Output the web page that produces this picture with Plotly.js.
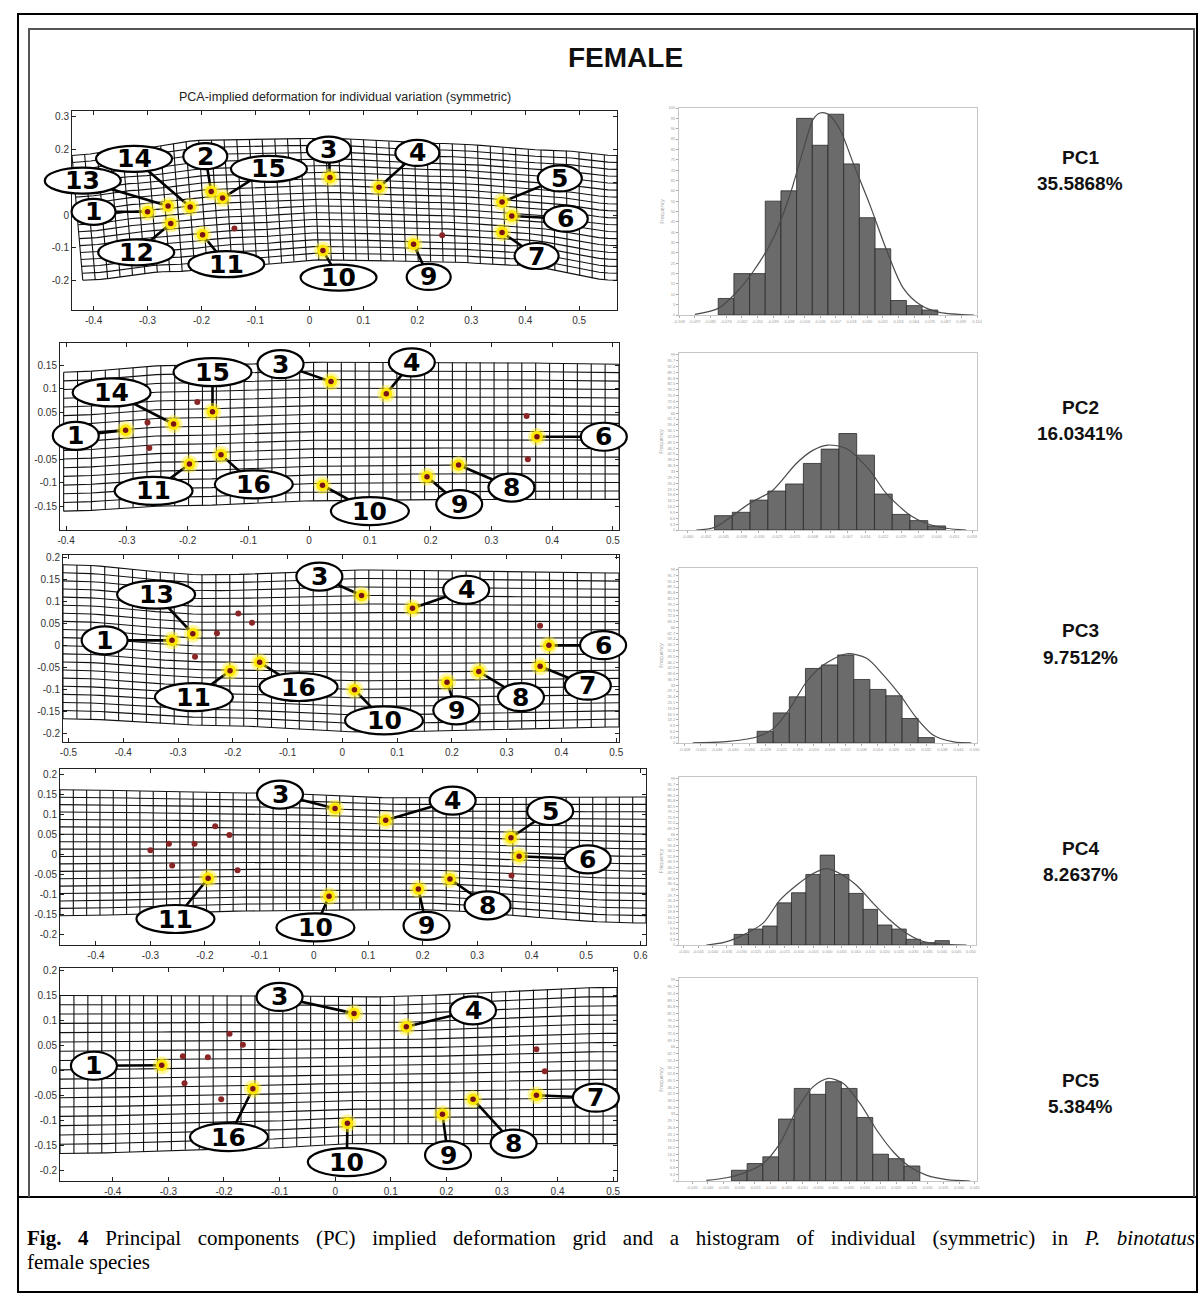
<!DOCTYPE html>
<html><head><meta charset="utf-8">
<script src="https://cdn.plot.ly/plotly-3.0.1.min.js"></script>
<style>body{margin:0;background:#fff;}#chart{width:1198px;height:1296px;}</style>
</head><body><div id="chart"></div>
<script>
// ---------------- DATA ----------------
const pcNames = ['PC1','PC2','PC3','PC4','PC5'];
const pcVariance = ['35.5868%','16.0341%','9.7512%','8.2637%','5.384%'];

const pc1LmId = ['1','13','14','12','2','15','11','3','4','10','9','5','6','7'];
const pc1LmX  = [-0.30,-0.262,-0.221,-0.257,-0.182,-0.161,-0.198,0.038,0.129,0.025,0.193,0.357,0.375,0.357];
const pc1LmY  = [0.01,0.028,0.025,-0.026,0.072,0.052,-0.06,0.115,0.085,-0.108,-0.089,0.04,-0.003,-0.053];
const pc1LabX = [-0.40,-0.42,-0.325,-0.321,-0.193,-0.075,-0.154,0.036,0.2,0.054,0.221,0.464,0.475,0.421];
const pc1LabY = [0.01,0.105,0.172,-0.114,0.18,0.141,-0.15,0.20,0.19,-0.191,-0.189,0.112,-0.011,-0.125];
const pc1DotX = [-0.139,0.246];
const pc1DotY = [-0.041,-0.062];
const pc1TopX = [-0.44,-0.33,-0.19,0.025,0.24,0.454,0.57];
const pc1TopY = [0.182,0.203,0.229,0.234,0.219,0.198,0.182];
const pc1BotX = [-0.42,-0.26,-0.12,0.025,0.24,0.38,0.57];
const pc1BotY = [-0.199,-0.173,-0.153,-0.137,-0.142,-0.153,-0.199];

const pc2LmId = ['1','14','15','11','16','3','4','10','9','8','6'];
const pc2LmX  = [-0.302,-0.223,-0.159,-0.197,-0.145,0.036,0.127,0.022,0.194,0.246,0.375];
const pc2LmY  = [0.012,0.025,0.051,-0.06,-0.04,0.115,0.089,-0.105,-0.087,-0.062,-0.002];
const pc2LabX = [-0.384,-0.325,-0.159,-0.256,-0.091,-0.047,0.169,0.1,0.247,0.333,0.485];
const pc2LabY = [0.0,0.092,0.135,-0.117,-0.103,0.152,0.156,-0.16,-0.145,-0.11,-0.002];
const pc2DotX = [-0.266,-0.263,-0.184,0.358,0.36];
const pc2DotY = [0.028,-0.026,0.072,0.042,-0.05];
const pc2TopX = [-0.404,-0.228,0.022,0.272,0.51];
const pc2TopY = [0.135,0.149,0.156,0.156,0.152];
const pc2BotX = [-0.404,-0.228,0.022,0.272,0.51];
const pc2BotY = [-0.16,-0.149,-0.138,-0.135,-0.135];

const pc3LmId = ['1','13','11','16','3','4','10','9','8','6','7'];
const pc3LmX  = [-0.311,-0.273,-0.205,-0.151,0.035,0.128,0.022,0.191,0.249,0.377,0.361];
const pc3LmY  = [0.011,0.026,-0.058,-0.039,0.113,0.084,-0.101,-0.084,-0.06,0.0,-0.048];
const pc3LabX = [-0.434,-0.34,-0.271,-0.08,-0.042,0.226,0.076,0.208,0.326,0.476,0.448];
const pc3LabY = [0.011,0.115,-0.118,-0.095,0.156,0.126,-0.171,-0.148,-0.118,0.0,-0.092];
const pc3DotX = [-0.229,-0.19,-0.165,-0.269,0.361];
const pc3DotY = [0.027,0.072,0.051,-0.026,0.044];
const pc3TopX = [-0.51,-0.24,0.038,0.505];
const pc3TopY = [0.183,0.16,0.171,0.164];
const pc3BotX = [-0.51,-0.24,0.038,0.505];
const pc3BotY = [-0.167,-0.182,-0.197,-0.186];

const pc4LmId = ['3','4','5','6','11','10','9','8'];
const pc4LmX  = [0.039,0.132,0.362,0.377,-0.194,0.028,0.192,0.25];
const pc4LmY  = [0.115,0.086,0.042,-0.004,-0.059,-0.104,-0.086,-0.061];
const pc4LabX = [-0.062,0.255,0.434,0.503,-0.254,0.003,0.207,0.319];
const pc4LabY = [0.15,0.135,0.109,-0.012,-0.161,-0.182,-0.178,-0.127];
const pc4DotX = [-0.3,-0.266,-0.219,-0.181,-0.155,-0.26,-0.14,0.363];
const pc4DotY = [0.011,0.027,0.027,0.071,0.049,-0.027,-0.039,-0.052];
const pc4TopX = [-0.466,-0.114,0.162,0.61];
const pc4TopY = [0.162,0.154,0.142,0.144];
const pc4BotX = [-0.466,-0.114,0.162,0.61];
const pc4BotY = [-0.153,-0.141,-0.137,-0.171];

const pc5LmId = ['1','16','3','4','10','9','8','7'];
const pc5LmX  = [-0.312,-0.148,0.034,0.128,0.022,0.193,0.248,0.362];
const pc5LmY  = [0.01,-0.037,0.114,0.087,-0.106,-0.088,-0.058,-0.05];
const pc5LabX = [-0.434,-0.191,-0.1,0.248,0.021,0.203,0.321,0.469];
const pc5LabY = [0.009,-0.134,0.147,0.12,-0.184,-0.17,-0.147,-0.055];
const pc5DotX = [-0.274,-0.229,-0.19,-0.166,-0.271,-0.205,0.362,0.377];
const pc5DotY = [0.028,0.026,0.073,0.051,-0.026,-0.058,0.042,-0.002];
const pc5TopX = [-0.495,-0.159,0.048,0.507];
const pc5TopY = [0.15,0.15,0.147,0.166];
const pc5BotX = [-0.495,-0.159,0.048,0.507];
const pc5BotY = [-0.167,-0.157,-0.147,-0.147];

// grid-axis ticks (values) and their labels ('' where the label is hidden behind a callout)
const gridXTickVals = [
  [-0.4,-0.3,-0.2,-0.1,0,0.1,0.2,0.3,0.4,0.5],
  [-0.4,-0.3,-0.2,-0.1,0,0.1,0.2,0.3,0.4,0.5],
  [-0.5,-0.4,-0.3,-0.2,-0.1,0,0.1,0.2,0.3,0.4,0.5],
  [-0.4,-0.3,-0.2,-0.1,0,0.1,0.2,0.3,0.4,0.5,0.6],
  [-0.4,-0.3,-0.2,-0.1,0,0.1,0.2,0.3,0.4,0.5]
];
const gridXTickText = [
  ['-0.4','-0.3','-0.2','-0.1','0','0.1','0.2','0.3','0.4','0.5'],
  ['-0.4','-0.3','-0.2','-0.1','0','0.1','0.2','0.3','0.4','0.5'],
  ['-0.5','-0.4','-0.3','-0.2','-0.1','0','0.1','0.2','0.3','0.4','0.5'],
  ['-0.4','-0.3','-0.2','-0.1','0','0.1','0.2','0.3','0.4','0.5','0.6'],
  ['-0.4','-0.3','-0.2','-0.1','0','0.1','0.2','0.3','0.4','0.5']
];
const gridYTickVals = [
  [-0.2,-0.1,0,0.1,0.2,0.3],
  [-0.15,-0.1,-0.05,0,0.05,0.1,0.15],
  [-0.2,-0.15,-0.1,-0.05,0,0.05,0.1,0.15,0.2],
  [-0.2,-0.15,-0.1,-0.05,0,0.05,0.1,0.15,0.2],
  [-0.2,-0.15,-0.1,-0.05,0,0.05,0.1,0.15,0.2]
];
const gridYTickText = [
  ['-0.2','-0.1','0','','0.2','0.3'],
  ['-0.15','-0.1','-0.05','','0.05','0.1','0.15'],
  ['-0.2','-0.15','-0.1','-0.05','0','0.05','0.1','0.15','0.2'],
  ['-0.2','-0.15','-0.1','-0.05','0','0.05','0.1','0.15','0.2'],
  ['-0.2','-0.15','-0.1','-0.05','0','0.05','0.1','0.15','0.2']
];

const pc1Bin = [1,2,3,4,5,6,7,8,9,10,11,12,13,14];
const pc1Count = [8,20,20,55,60,95,82,97,73,47,32,7,4.5,2.4];
const pc1CurveX = [-0.99,0.5,1.67,2.73,4.0,5.07,5.93,6.56,6.99,7.52,8.27,9.1,10.2,11.2,12.3,13.4,14.6,16.8];
const pc1CurveY = [0.3,3.2,11,21,37,58,80,94.6,97.6,97,89.5,73.5,52.6,32,13,4.8,1.3,0];
const pc2Bin = [1,2,3,4,5,6,7,8,9,10,11,12,13];
const pc2Count = [8.1,10,16.9,22,26,37.6,45.7,54.5,42.3,20.3,8.8,5.3,2.3];
const pc2CurveX = [-0.53,0.5,2.47,3.78,5.1,6.03,6.88,7.91,9.22,10.16,11.48,12.41,13.54,14.66];
const pc2CurveY = [0,1.5,15,22.5,37.6,45,48,46,33.8,20.7,8.5,3.8,1,0];
const pc3Bin = [1,2,3,4,5,6,7,8,9,10,11];
const pc3Count = [6.7,17.2,26.4,42.6,44.6,50.3,36.3,30.6,27,14,3.1];
const pc3CurveX = [-3.5,-1.62,0.46,1.5,2.53,3.57,4.61,6.06,7.3,8.34,9.38,10.42,11.45,12.7,13.8];
const pc3CurveY = [0.1,0.6,3.4,8.2,19.7,35,44.6,51,48.4,38.8,27.3,14,4.4,0.6,0.1];
const pc4Bin = [1,2,3,4,5,6,7,8,9,10,11,12,13,14,15];
const pc4Count = [6.3,9.5,11.3,25.1,31.1,42,53.5,42,30.7,21.2,11.9,9.5,3.4,1.4,2.6];
const pc4CurveX = [-1.43,-0.27,0.9,2.52,3.69,4.85,6.01,6.94,7.87,9.03,10.2,11.36,12.52,13.69,14.85,16.7];
const pc4CurveY = [0,1.4,5,13,26.7,35.6,42.6,45.5,42.6,35.6,24.8,14.9,7,2,0.6,0];
const pc5Bin = [1,2,3,4,5,6,7,8,9,10,11,12];
const pc5Count = [5.3,8.6,11.9,30.5,45.6,42.7,48.9,45.6,31.3,13.2,11,7.4];
const pc5CurveX = [-1.1,0.18,1.46,2.52,3.59,4.65,5.71,6.67,7.63,8.69,9.76,10.82,11.88,12.95,14.22,15.71];
const pc5CurveY = [0.3,1.6,4.4,8.6,18.5,35,46.5,50.6,48,38.2,25,14.3,6.9,2.8,0.7,0];

const histTickText = [
  ['-0.108','-0.097','-0.085','-0.074','-0.062','-0.051','-0.039','-0.028','-0.016','-0.005','0.007','0.018','0.030','0.041','0.053','0.064','0.076','0.087','0.099','0.110'],
  ['-0.060','-0.052','-0.045','-0.038','-0.030','-0.023','-0.015','-0.008','0.000','0.007','0.014','0.022','0.029','0.037','0.044','0.051','0.059'],
  ['-0.058','-0.052','-0.046','-0.040','-0.034','-0.028','-0.022','-0.016','-0.010','-0.004','0.002','0.008','0.014','0.020','0.026','0.032','0.038','0.044','0.050'],
  ['-0.050','-0.045','-0.040','-0.035','-0.030','-0.025','-0.020','-0.015','-0.010','-0.005','0.000','0.005','0.010','0.015','0.020','0.025','0.030','0.035','0.040','0.045','0.050'],
  ['-0.045','-0.040','-0.035','-0.030','-0.025','-0.020','-0.015','-0.010','-0.005','0.000','0.005','0.010','0.015','0.020','0.025','0.030','0.035','0.040','0.045']
];

const figTitle = 'FEMALE';
const gridTitle = 'PCA-implied deformation for individual variation (symmetric)';
const captionLine1 = '<b>Fig. 4</b> Principal components (PC) implied deformation grid and a histogram of individual (symmetric) in <i>P. binotatus</i>';
const captionLine2 = 'female species';

// ---------------- LAYOUT / DRAWING ----------------
const W = 1198, H = 1296;
const dx = p => p / W, dy = p => 1 - p / H;

const rows = [
  {lmId:pc1LmId,lmX:pc1LmX,lmY:pc1LmY,labX:pc1LabX,labY:pc1LabY,dotX:pc1DotX,dotY:pc1DotY,topX:pc1TopX,topY:pc1TopY,botX:pc1BotX,botY:pc1BotY,bin:pc1Bin,cnt:pc1Count,cx:pc1CurveX,cy:pc1CurveY},
  {lmId:pc2LmId,lmX:pc2LmX,lmY:pc2LmY,labX:pc2LabX,labY:pc2LabY,dotX:pc2DotX,dotY:pc2DotY,topX:pc2TopX,topY:pc2TopY,botX:pc2BotX,botY:pc2BotY,bin:pc2Bin,cnt:pc2Count,cx:pc2CurveX,cy:pc2CurveY},
  {lmId:pc3LmId,lmX:pc3LmX,lmY:pc3LmY,labX:pc3LabX,labY:pc3LabY,dotX:pc3DotX,dotY:pc3DotY,topX:pc3TopX,topY:pc3TopY,botX:pc3BotX,botY:pc3BotY,bin:pc3Bin,cnt:pc3Count,cx:pc3CurveX,cy:pc3CurveY},
  {lmId:pc4LmId,lmX:pc4LmX,lmY:pc4LmY,labX:pc4LabX,labY:pc4LabY,dotX:pc4DotX,dotY:pc4DotY,topX:pc4TopX,topY:pc4TopY,botX:pc4BotX,botY:pc4BotY,bin:pc4Bin,cnt:pc4Count,cx:pc4CurveX,cy:pc4CurveY},
  {lmId:pc5LmId,lmX:pc5LmX,lmY:pc5LmY,labX:pc5LabX,labY:pc5LabY,dotX:pc5DotX,dotY:pc5DotY,topX:pc5TopX,topY:pc5TopY,botX:pc5BotX,botY:pc5BotY,bin:pc5Bin,cnt:pc5Count,cx:pc5CurveX,cy:pc5CurveY}
];

const gridFrames = [
  {L:72,R:617,T:111,B:310,xr:[-0.44,0.57],yr:[-0.29,0.318],nC:43,nR:18,ew:44,dw:76,eh:26},
  {L:60,R:619,T:343,B:530,xr:[-0.41,0.51],yr:[-0.2,0.197],nC:40,nR:16,ew:46,dw:78,eh:28},
  {L:63,R:619,T:555,B:742,xr:[-0.51,0.505],yr:[-0.22,0.205],nC:40,nR:19,ew:46,dw:78,eh:28},
  {L:60,R:646,T:769,B:945,xr:[-0.466,0.61],yr:[-0.226,0.214],nC:44,nR:17,ew:46,dw:78,eh:28},
  {L:60,R:617,T:968,B:1181,xr:[-0.495,0.507],yr:[-0.222,0.205],nC:40,nR:17,ew:46,dw:78,eh:28}
];
const histFrames = [
  {L:679,R:977,T:108,B:315,xr:[-2.0,17.0],t0:-2,dt:5},
  {L:679,R:977,T:353,B:530,xr:[-1.5,15.27],t0:-1,dt:3.3},
  {L:679,R:977,T:568,B:743,xr:[-4.35,14.15],t0:-4,dt:3.3},
  {L:679,R:976,T:777,B:945,xr:[-3.34,17.36],t0:-3,dt:3.3},
  {L:679,R:977,T:978,B:1181,xr:[-2.84,16.14],t0:-2,dt:3.3}
];
const pcTextY = [[158,183],[407,433],[630,657],[848,874],[1080,1106]];

function interp(xs, ys, x) {
  if (x <= xs[0]) return ys[0];
  for (let i = 1; i < xs.length; i++) {
    if (x <= xs[i]) {
      const t = (x - xs[i-1]) / (xs[i] - xs[i-1]);
      const s = (1 - Math.cos(Math.PI * t)) / 2;
      return ys[i-1] + s * (ys[i] - ys[i-1]);
    }
  }
  return ys[ys.length - 1];
}
function buildGrid(r, nC, nR) {
  const gx = [], gy = [];
  const tL = r.topX[0], tR = r.topX[r.topX.length-1], bL = r.botX[0], bR = r.botX[r.botX.length-1];
  const S = 60;
  for (let j = 0; j <= nR; j++) {
    const v = j / nR;
    for (let s = 0; s <= S; s++) {
      const u = s / S;
      const xt = tL + u*(tR-tL), xb = bL + u*(bR-bL);
      const yt = interp(r.topX, r.topY, xt), yb = interp(r.botX, r.botY, xb);
      gx.push(xt + v*(xb-xt)); gy.push(yt + v*(yb-yt));
    }
    gx.push(null); gy.push(null);
  }
  for (let i = 0; i <= nC; i++) {
    const u = i / nC;
    const xt = tL + u*(tR-tL), xb = bL + u*(bR-bL);
    gx.push(xt, xb); gy.push(interp(r.topX, r.topY, xt), interp(r.botX, r.botY, xb));
    gx.push(null); gy.push(null);
  }
  return {gx, gy};
}

const data = [], shapes = [], annotations = [];
const layout = {
  width: W, height: H, margin: {l:0,r:0,t:0,b:0},
  paper_bgcolor: '#ffffff', plot_bgcolor: 'rgba(0,0,0,0)',
  showlegend: false, hovermode: false
};
const axName = (c, k) => (k === 1 ? c + 'axis' : c + 'axis' + k);
const ref = (c, k) => (k === 1 ? c : c + k);
const tickFont = {family:'Liberation Sans, Arial, sans-serif', size:10, color:'#333'};
const labelFont = {family:'DejaVu Sans, sans-serif', size:25, color:'#000'};

rows.forEach((r, i) => {
  const kF = 3*i + 1, kD = 3*i + 2, kH = 3*i + 3;
  const f = gridFrames[i];
  const sx = (f.xr[1]-f.xr[0])/(f.R-f.L), sy = (f.yr[1]-f.yr[0])/(f.B-f.T);
  const E = 45, EV = 14;
  layout[axName('x',kF)] = {domain:[dx(f.L),dx(f.R)], range:f.xr, anchor:ref('y',kF), showline:true, mirror:'ticks',
    linecolor:'#222', linewidth:1, ticks:'inside', ticklen:4, tickcolor:'#222', tickmode:'array', tickvals:gridXTickVals[i], ticktext:gridXTickText[i],
    tickfont:tickFont, showgrid:false, zeroline:false, fixedrange:true, ticklabelstandoff:1};
  layout[axName('y',kF)] = {domain:[dy(f.B),dy(f.T)], range:f.yr, anchor:ref('x',kF), showline:true, mirror:'ticks',
    linecolor:'#222', linewidth:1, ticks:'inside', ticklen:4, tickcolor:'#222', tickmode:'array', tickvals:gridYTickVals[i], ticktext:gridYTickText[i],
    tickfont:tickFont, showgrid:false, zeroline:false, fixedrange:true};
  layout[axName('x',kD)] = {domain:[dx(f.L-E),dx(f.R+E)], range:[f.xr[0]-E*sx, f.xr[1]+E*sx], anchor:ref('y',kD), visible:false, fixedrange:true};
  layout[axName('y',kD)] = {domain:[dy(f.B+EV),dy(f.T-EV)], range:[f.yr[0]-EV*sy, f.yr[1]+EV*sy], anchor:ref('x',kD), visible:false, fixedrange:true};

  data.push({type:'scatter', mode:'markers', x:[f.xr[0]], y:[f.yr[0]], marker:{opacity:0}, xaxis:ref('x',kF), yaxis:ref('y',kF), hoverinfo:'skip'});
  const g = buildGrid(r, f.nC, f.nR);
  data.push({type:'scatter', mode:'lines', x:g.gx, y:g.gy, line:{color:'#111', width:1.1}, xaxis:ref('x',kD), yaxis:ref('y',kD), hoverinfo:'skip', connectgaps:false});
  const lx = [], ly = [];
  r.lmX.forEach((x, j) => { lx.push(r.labX[j], x, null); ly.push(r.labY[j], r.lmY[j], null); });
  data.push({type:'scatter', mode:'lines', x:lx, y:ly, line:{color:'#000', width:2.6}, xaxis:ref('x',kD), yaxis:ref('y',kD), hoverinfo:'skip'});
  data.push({type:'scatter', mode:'markers', x:r.lmX, y:r.lmY, marker:{size:18, color:'rgba(255,240,40,0.45)'}, xaxis:ref('x',kD), yaxis:ref('y',kD), hoverinfo:'skip'});
  data.push({type:'scatter', mode:'markers', x:r.lmX, y:r.lmY, marker:{size:12, color:'rgba(255,232,0,0.95)'}, xaxis:ref('x',kD), yaxis:ref('y',kD), hoverinfo:'skip'});
  data.push({type:'scatter', mode:'markers', x:r.lmX, y:r.lmY, marker:{size:5.5, color:'#7a1414'}, xaxis:ref('x',kD), yaxis:ref('y',kD), hoverinfo:'skip'});
  data.push({type:'scatter', mode:'markers', x:r.dotX, y:r.dotY, marker:{size:6, color:'#8a2525'}, xaxis:ref('x',kD), yaxis:ref('y',kD), hoverinfo:'skip'});
  r.lmId.forEach((id, j) => {
    const w = id.length > 1 ? f.dw : f.ew;
    shapes.push({type:'circle', xref:ref('x',kD), yref:ref('y',kD), xsizemode:'pixel', ysizemode:'pixel',
      xanchor:r.labX[j], yanchor:r.labY[j], x0:-w/2, x1:w/2, y0:-f.eh/2, y1:f.eh/2,
      fillcolor:'#fff', line:{color:'#000', width:2.2}, layer:'above'});
    annotations.push({xref:ref('x',kD), yref:ref('y',kD), x:r.labX[j], y:r.labY[j], text:'<b>'+id+'</b>', showarrow:false,
      font:labelFont, xanchor:'center', yanchor:'middle'});
  });

  const h = histFrames[i];
  const tv = histTickText[i].map((_, k) => h.t0 + k);
  layout[axName('x',kH)] = {domain:[dx(h.L),dx(h.R)], range:h.xr, anchor:ref('y',kH), showline:true, mirror:true, linecolor:'#c6c6c6', linewidth:1,
    ticks:'outside', ticklen:2, tickcolor:'#aaa', tickmode:'array', tickvals:tv, ticktext:histTickText[i],
    tickfont:{family:'Liberation Sans, Arial', size:4, color:'#999'}, showgrid:false, zeroline:false, fixedrange:true};
  layout[axName('y',kH)] = {domain:[dy(h.B),dy(h.T)], range:[0,100], anchor:ref('x',kH), showline:true, mirror:true, linecolor:'#c6c6c6', linewidth:1,
    ticks:'outside', ticklen:2, tickcolor:'#aaa', tickmode:'linear', tick0:0, dtick:h.dt,
    tickfont:{family:'Liberation Sans, Arial', size:4, color:'#999'}, showgrid:false, zeroline:false, fixedrange:true,
    title:{text:'Frequency', font:{size:5, color:'#999'}, standoff:3}};
  data.push({type:'bar', x:r.bin, y:r.cnt, width:1, marker:{color:'#6b6b6b', line:{color:'#2a2a2a', width:0.8}},
    xaxis:ref('x',kH), yaxis:ref('y',kH), hoverinfo:'skip'});
  data.push({type:'scatter', mode:'lines', x:r.cx, y:r.cy, line:{color:'#4a4a4a', width:1.2, shape:'spline', smoothing:0.8},
    xaxis:ref('x',kH), yaxis:ref('y',kH), hoverinfo:'skip'});

  const pf = {family:'Liberation Sans, Arial, sans-serif', size:19, color:'#111'};
  annotations.push({xref:'paper', yref:'paper', x:dx(1080), y:dy(pcTextY[i][0]), text:'<b>'+pcNames[i]+'</b>', showarrow:false, font:pf, xanchor:'center', yanchor:'middle'});
  annotations.push({xref:'paper', yref:'paper', x:dx(1080), y:dy(pcTextY[i][1]), text:'<b>'+pcVariance[i]+'</b>', showarrow:false, font:pf, xanchor:'center', yanchor:'middle'});
});

annotations.push({xref:'paper', yref:'paper', x:dx(625), y:dy(58), text:'<b>'+figTitle+'</b>', showarrow:false,
  font:{family:'Liberation Sans, Arial, sans-serif', size:28, color:'#111'}, xanchor:'center', yanchor:'middle'});
annotations.push({xref:'paper', yref:'paper', x:dx(345), y:dy(97), text:gridTitle, showarrow:false,
  font:{family:'Liberation Sans, Arial, sans-serif', size:12.5, color:'#222'}, xanchor:'center', yanchor:'middle'});
annotations.push({xref:'paper', yref:'paper', x:dx(25), y:dy(1238), text:captionLine1, showarrow:false, align:'left',
  font:{family:'Liberation Serif, Times New Roman, serif', size:21, color:'#000'}, xanchor:'left', yanchor:'middle'});
annotations.push({xref:'paper', yref:'paper', x:dx(25), y:dy(1262), text:captionLine2, showarrow:false, align:'left',
  font:{family:'Liberation Serif, Times New Roman, serif', size:21, color:'#000'}, xanchor:'left', yanchor:'middle'});

shapes.push({type:'rect', xref:'paper', yref:'paper', x0:dx(18), x1:dx(1197), y0:dy(1292), y1:dy(14), line:{color:'#000', width:2}, layer:'below'});
shapes.push({type:'line', xref:'paper', yref:'paper', x0:dx(18), x1:dx(1197), y0:dy(1197), y1:dy(1197), line:{color:'#000', width:2}, layer:'below'});
shapes.push({type:'path', xref:'paper', yref:'paper',
  path:'M '+dx(29)+' '+dy(1197)+' L '+dx(29)+' '+dy(29)+' L '+dx(1194)+' '+dy(29)+' L '+dx(1194)+' '+dy(1197),
  line:{color:'#555', width:2}, layer:'below'});

layout.shapes = shapes;
layout.annotations = annotations;
Plotly.newPlot('chart', data, layout, {staticPlot:true, displayModeBar:false}).then(() => {
  document.querySelectorAll('.annotation-text').forEach(t => {
    if (t.textContent.indexOf('Principal components') >= 0) {
      const len = t.getComputedTextLength();
      const spaces = (t.textContent.match(/ /g) || []).length;
      const target = 1195 - 27;
      if (spaces && target > len) t.setAttribute('word-spacing', ((target - len) / spaces).toFixed(2));
    }
  });
});
</script></body></html>
